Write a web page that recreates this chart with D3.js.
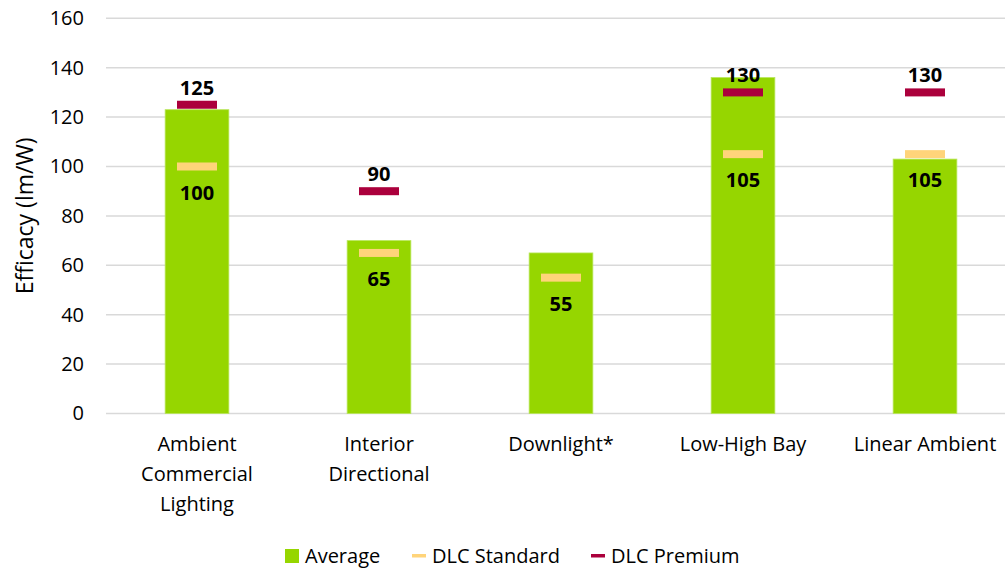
<!DOCTYPE html>
<html><head><meta charset="utf-8">
<script src="https://cdn.jsdelivr.net/npm/d3@7"></script>
<style>body{margin:0;background:#fff}svg{display:block}text{font-family:"Open Sans",sans-serif}</style>
</head><body>
<svg id="c" width="1005" height="569"></svg>
<script>
const categories = [["Ambient","Commercial","Lighting"],["Interior","Directional"],["Downlight*"],["Low-High Bay"],["Linear Ambient"]];
const averageValues = [123, 70, 65, 136, 103];
const standardValues = [100, 65, 55, 105, 105];
const premiumValues = [125, 90, null, 130, 130];
const yTicks = [0,20,40,60,80,100,120,140,160];
const legendLabels = ["Average","DLC Standard","DLC Premium"];

const colAvg = "#96d600", colStd = "#ffd47a", colPrem = "#ab003c";
const FONT = "'Open Sans', sans-serif";
const svg = d3.select("#c");
const keys = categories.map((d,i)=>i);
const x = d3.scaleBand().domain(keys).range([106,1016]).paddingInner(0.65).paddingOuter(0.325);
const y = d3.scaleLinear().domain([0,160]).range([413.5,18.3]);

// gridlines
svg.append("g").selectAll("line").data(yTicks).join("line")
  .attr("x1",106).attr("x2",1005).attr("y1",d=>y(d)).attr("y2",d=>y(d))
  .attr("stroke","#d9d9d9").attr("stroke-width",1.5);

// y axis labels
const yAxis = d3.axisLeft(y).tickValues(yTicks).tickSize(0).tickPadding(0);
const ya = svg.append("g").attr("transform","translate(84,0)").call(yAxis);
ya.select(".domain").remove();
ya.selectAll("text").attr("font-size",20).attr("fill","#000").attr("font-family",FONT);

svg.append("text").attr("transform",`translate(33,${y(80)}) rotate(-90)`)
  .attr("text-anchor","middle").attr("font-size",23).text("Efficacy (lm/W)");

// bars
svg.append("g").selectAll("rect").data(averageValues).join("rect")
  .attr("x",(d,i)=>x(i)).attr("width",x.bandwidth())
  .attr("y",d=>y(d)).attr("height",d=>y(0)-y(d))
  .attr("fill",colAvg).attr("stroke","#b8e65a").attr("stroke-width",0.8);

const mw = 40, mh = 8;
const cx = i => x(i)+x.bandwidth()/2;
// standard markers
svg.append("g").selectAll("rect").data(standardValues).join("rect")
  .attr("x",(d,i)=>cx(i)-mw/2).attr("y",d=>y(d)-mh/2).attr("width",mw).attr("height",mh)
  .attr("fill",colStd);
svg.append("g").selectAll("text").data(standardValues).join("text")
  .attr("x",(d,i)=>cx(i)).attr("y",d=>y(d)+26+7).attr("text-anchor","middle")
  .attr("font-size",20).attr("font-weight","bold").text(d=>d);
// premium markers
const prem = premiumValues.map((v,i)=>({v,i})).filter(d=>d.v!=null);
svg.append("g").selectAll("rect").data(prem).join("rect")
  .attr("x",d=>cx(d.i)-mw/2).attr("y",d=>y(d.v)-mh/2).attr("width",mw).attr("height",mh)
  .attr("fill",colPrem);
svg.append("g").selectAll("text").data(prem).join("text")
  .attr("x",d=>cx(d.i)).attr("y",d=>y(d.v)-17+7).attr("text-anchor","middle")
  .attr("font-size",20).attr("font-weight","bold").text(d=>d.v);

// x labels
const xl = svg.append("g").selectAll("text").data(categories).join("text")
  .attr("text-anchor","middle").attr("font-size",20);
xl.each(function(lines,i){
  d3.select(this).selectAll("tspan").data(lines).join("tspan")
    .attr("x",cx(i)).attr("y",(l,j)=>451+j*30).text(l=>l);
});

// legend
const lg = svg.append("g");
lg.append("rect").attr("x",285).attr("y",549).attr("width",14).attr("height",14).attr("fill",colAvg);
lg.append("text").attr("x",305).attr("y",563).attr("font-size",20).text(legendLabels[0]);
lg.append("rect").attr("x",412).attr("y",554).attr("width",14).attr("height",3.5).attr("fill",colStd);
lg.append("text").attr("x",432).attr("y",563).attr("font-size",20).text(legendLabels[1]);
lg.append("rect").attr("x",591).attr("y",554).attr("width",14).attr("height",3.5).attr("fill",colPrem);
lg.append("text").attr("x",611).attr("y",563).attr("font-size",20).text(legendLabels[2]);
</script>
</body></html>
